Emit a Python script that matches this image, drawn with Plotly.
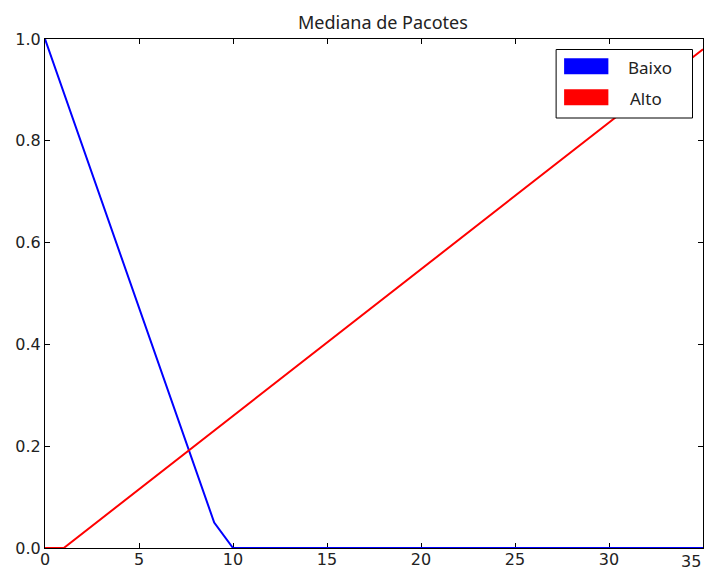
import plotly.graph_objects as go

# Data
baixo_x = [0, 9, 10, 35]
baixo_y = [1.0, 0.05, 0.0, 0.0]
alto_x = [0, 1, 35]
alto_y = [0.0, 0.0, 0.98]
x_ticks = [0, 5, 10, 15, 20, 25, 30, 35]
y_ticks = [0.0, 0.2, 0.4, 0.6, 0.8, 1.0]
series_names = ["Baixo", "Alto"]
series_colors = ["#0000ff", "#ff0000"]

W, H = 711, 570
L, R, T, B = 44.5, 8, 39, 22
PW, PH = W - L - R, H - T - B


def px(xp):
    return (xp - L) / PW


def py(yp):
    return (H - B - yp) / PH


fig = go.Figure()
for xs, ys, name, col in [(baixo_x, baixo_y, series_names[0], series_colors[0]),
                          (alto_x, alto_y, series_names[1], series_colors[1])]:
    fig.add_trace(go.Scatter(x=xs, y=ys, mode="lines", name=name,
                             line=dict(color=col, width=2), showlegend=False))

tick_font = dict(family="DejaVu Sans", size=16, color="#222222")
axis_common = dict(showgrid=False, zeroline=False, showline=True, linecolor="black",
                   linewidth=1, mirror="allticks", ticks="inside", ticklen=5,
                   tickcolor="black", tickwidth=1, layer="below traces", automargin=False,
                   tickfont=tick_font)

# last x tick label sits just inside the right edge of the image
x_ticktext = [str(v) for v in x_ticks[:-1]] + [""]

# Manual legend (box, colour patches, labels)
shapes = [dict(type="rect", xref="paper", yref="paper",
               x0=px(556), x1=px(692.5), y0=py(118), y1=py(49.5),
               line=dict(color="black", width=1), fillcolor="white", layer="above")]
annotations = [
    dict(text="Mediana de Pacotes", xref="paper", yref="paper",
         x=px(382.5), y=py(21.5), yanchor="middle", xanchor="center",
         showarrow=False, font=dict(family="Noto Sans", size=18, color="#222222")),
    dict(text=str(x_ticks[-1]), xref="x", yref="paper", x=x_ticks[-1], y=0,
         xanchor="right", yanchor="top", xshift=0, yshift=-2, showarrow=False,
         font=tick_font),
]
patch_tops = [58.3, 89.3]
text_centers = [649.5, 646]
for i, name in enumerate(series_names):
    shapes.append(dict(type="rect", xref="paper", yref="paper",
                       x0=px(564), x1=px(608.3), y0=py(patch_tops[i] + 16), y1=py(patch_tops[i]),
                       line=dict(width=0), fillcolor=series_colors[i], layer="above"))
    annotations.append(dict(text=name, xref="paper", yref="paper",
                            x=px(text_centers[i]), y=py(patch_tops[i] + 9), xanchor="center",
                            yanchor="middle", showarrow=False,
                            font=dict(family="Noto Sans", size=17, color="#222222")))

fig.update_layout(
    width=W, height=H,
    margin=dict(l=L, r=R, t=T, b=B, pad=0),
    paper_bgcolor="white", plot_bgcolor="white",
    showlegend=False,
    xaxis=dict(range=[0, 35], tickvals=x_ticks, ticktext=x_ticktext,
               ticklabelstandoff=-3, **axis_common),
    yaxis=dict(range=[0, 1], tickvals=y_ticks, ticktext=[f"{v:.1f}" for v in y_ticks], **axis_common),
    shapes=shapes,
    annotations=annotations,
)

fig.write_html("out.html")
